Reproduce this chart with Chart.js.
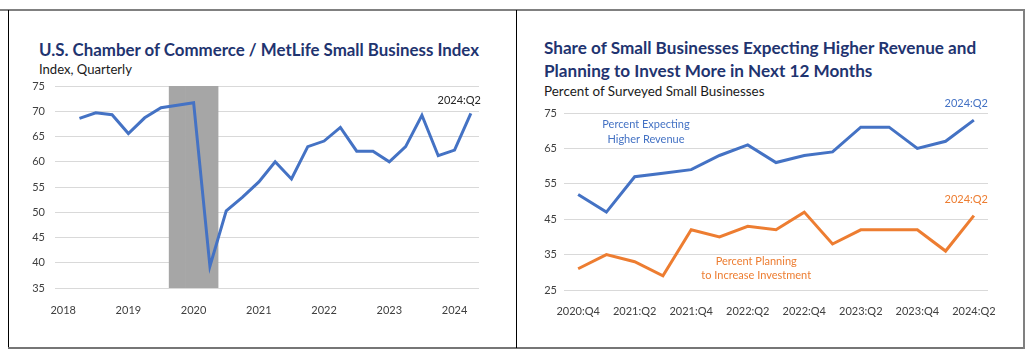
<!DOCTYPE html>
<html><head><meta charset="utf-8">
<script src="https://cdn.jsdelivr.net/npm/chart.js@4"></script>
<style>
html,body{margin:0;padding:0;background:#fff;width:1032px;height:356px;overflow:hidden;font-family:Lato,"Noto Sans",sans-serif;}
.ln{position:absolute;}
.t{position:absolute;white-space:nowrap;font-family:Lato,sans-serif;}
.title{font-weight:bold;color:#1f3470;}
.sub{color:#1a1a1a;}
.cv{position:absolute;}
</style></head><body>
<div class="ln" style="left:0;top:9px;width:1025px;height:2px;background:#808080"></div>
<div class="ln" style="left:8px;top:10px;width:1px;height:339px;background:#000"></div>
<div class="ln" style="left:8px;top:347px;width:1017px;height:2px;background:#767676"></div>
<div class="ln" style="left:1023px;top:9px;width:2px;height:340px;background:#808080"></div>
<div class="ln" style="left:516px;top:10px;width:1px;height:338px;background:#000"></div>

<div class="t title" id="t1" data-w="441" data-cy="49" style="left:39px">U.S. Chamber of Commerce / MetLife Small Business Index</div>
<div class="t sub" id="s1" data-w="93" data-cy="69" style="left:39px">Index, Quarterly</div>
<div class="t title" id="t2a" data-w="433" data-cy="47" style="left:544px">Share of Small Businesses Expecting Higher Revenue and</div>
<div class="t title" id="t2b" data-same="t2a" data-cy="70" style="left:544px">Planning to Invest More in Next 12 Months</div>
<div class="t sub" id="s2" data-w="221" data-cy="91" style="left:544px">Percent of Surveyed Small Businesses</div>

<div class="cv" style="left:10px;top:80px;width:500px;height:240px"><canvas id="c1"></canvas></div>
<div class="cv" style="left:518px;top:80px;width:500px;height:240px"><canvas id="c2"></canvas></div>

<script>
// ---------- Data: left chart ----------
const indexQuarters = ['2018:Q1','2018:Q2','2018:Q3','2018:Q4','2019:Q1','2019:Q2','2019:Q3','2019:Q4',
  '2020:Q1','2020:Q2','2020:Q3','2020:Q4','2021:Q1','2021:Q2','2021:Q3','2021:Q4',
  '2022:Q1','2022:Q2','2022:Q3','2022:Q4','2023:Q1','2023:Q2','2023:Q3','2023:Q4','2024:Q1','2024:Q2'];
const indexValues = [null,68.6,69.7,69.3,65.6,68.7,70.7,71.2,71.7,39.3,50.3,53.0,56.0,60.0,56.6,63.0,
  64.1,66.8,62.1,62.1,60.0,63.0,69.2,61.2,62.3,69.6];
const recessionBars = [null,null,null,null,null,null,null,75,75,75,null,null,null,null,null,null,
  null,null,null,null,null,null,null,null,null,null];
const indexTicks = [35,40,45,50,55,60,65,70,75];

// ---------- Data: right chart ----------
const surveyQuarters = ['2020:Q4','2021:Q1','2021:Q2','2021:Q3','2021:Q4','2022:Q1','2022:Q2','2022:Q3',
  '2022:Q4','2023:Q1','2023:Q2','2023:Q3','2023:Q4','2024:Q1','2024:Q2'];
const higherRevenue = [52,47,57,58,59,63,66,61,63,64,71,71,65,67,73];
const increaseInvestment = [31,35,33,29,42,40,43,42,47,38,42,42,42,36,46];
const surveyTicks = [25,35,45,55,65,75];

// ---------- fit title fonts ----------
const mctx = document.createElement('canvas').getContext('2d');
const sizes = {};
document.querySelectorAll('.t').forEach(el=>{
  const bold = el.classList.contains('title');
  let size;
  if (el.dataset.same) size = sizes[el.dataset.same];
  else {
    mctx.font = (bold?'bold ':'') + '100px Lato';
    size = 100 * (+el.dataset.w) / mctx.measureText(el.textContent).width;
  }
  sizes[el.id] = size;
  const lh = Math.round(size*1.25);
  el.style.fontSize = size + 'px';
  el.style.lineHeight = lh + 'px';
  el.style.top = (+el.dataset.cy - lh/2) + 'px';
});

const FONT = {family:'Lato', size:11};
const TICK_COLOR = '#404040';
const GRID = '#d9d9d9';

const annotPlugin = {
  id:'annot',
  afterDatasetsDraw(chart, args, opts){
    const {ctx, chartArea} = chart; const x = chart.scales.x, y = chart.scales.y;
    (opts.items||[]).forEach(a=>{
      ctx.save();
      ctx.font = (a.size||11) + 'px Lato';
      ctx.fillStyle = a.color; ctx.textAlign = a.align || 'center'; ctx.textBaseline = 'middle';
      const px = (a.cat != null) ? x.getPixelForValue(a.cat) : chartArea.right + (a.dx||0);
      ctx.fillText(a.text, px, y.getPixelForValue(a.val));
      ctx.restore();
    });
  }
};

function yScale(min,max,step,ticks,width,pad){
  return {min, max, afterBuildTicks(s){ s.ticks = ticks.map(v=>({value:v})); },
    afterFit(s){ s.width = width; s.paddingTop = 0; s.paddingBottom = 0; },
    grid:{color:GRID, drawTicks:false, lineWidth:1}, border:{display:false},
    ticks:{stepSize:step, padding:pad, color:TICK_COLOR, font:FONT}};
}
function xScale(labels, height, pad, cb){
  return {offset:true, grid:{display:false}, border:{display:false},
    afterFit(s){ s.height = height; s.paddingLeft = 0; s.paddingRight = 0; },
    ticks:{autoSkip:false, maxRotation:0, padding:pad, color:TICK_COLOR, font:FONT, callback:cb}};
}

new Chart(document.getElementById('c1'), {
  data:{labels:indexQuarters, datasets:[
    {type:'line', data:indexValues, borderColor:'#4472C4', borderWidth:3, pointRadius:0, tension:0, fill:false},
    {type:'bar', data:recessionBars, backgroundColor:'#a6a6a6', barPercentage:1, categoryPercentage:1}
  ]},
  options:{responsive:true, maintainAspectRatio:false, animation:false,
    layout:{padding:{top:6,right:31,bottom:0,left:0}},
    plugins:{legend:{display:false}, tooltip:{enabled:false},
      annot:{items:[{text:'2024:Q2', val:72.1, align:'right', dx:2, color:'#262626'}]}},
    scales:{
      x: xScale(indexQuarters, 32, 8, (v,i)=>{ const l = indexQuarters[i]; return l.endsWith('Q1') ? l.slice(0,4) : ''; }),
      y: yScale(35,75,5,indexTicks,45,10)
    }},
  plugins:[annotPlugin]
});

new Chart(document.getElementById('c2'), {
  type:'line',
  data:{labels:surveyQuarters, datasets:[
    {data:higherRevenue, borderColor:'#4472C4', borderWidth:3, pointRadius:0, tension:0},
    {data:increaseInvestment, borderColor:'#ED7D31', borderWidth:3, pointRadius:0, tension:0}
  ]},
  options:{responsive:true, maintainAspectRatio:false, animation:false,
    layout:{padding:{top:33,right:30,bottom:0,left:0}},
    plugins:{legend:{display:false}, tooltip:{enabled:false},
      annot:{items:[
        {text:'2024:Q2', val:77.8, align:'right', dx:0, color:'#4472C4'},
        {text:'2024:Q2', val:50.5, align:'right', dx:0, color:'#ED7D31'},
        {text:'Percent Expecting', cat:2.4, val:71.7, color:'#4472C4'},
        {text:'Higher Revenue', cat:2.4, val:67.5, color:'#4472C4'},
        {text:'Percent Planning', cat:6.3, val:33.0, color:'#ED7D31'},
        {text:'to Increase Investment', cat:6.3, val:29.0, color:'#ED7D31'}
      ]}},
    scales:{
      x: xScale(surveyQuarters, 30, 7, (v,i)=> i % 2 === 0 ? surveyQuarters[i] : ''),
      y: yScale(25,75,10,surveyTicks,46,7)
    }},
  plugins:[annotPlugin]
});
</script>
</body></html>
